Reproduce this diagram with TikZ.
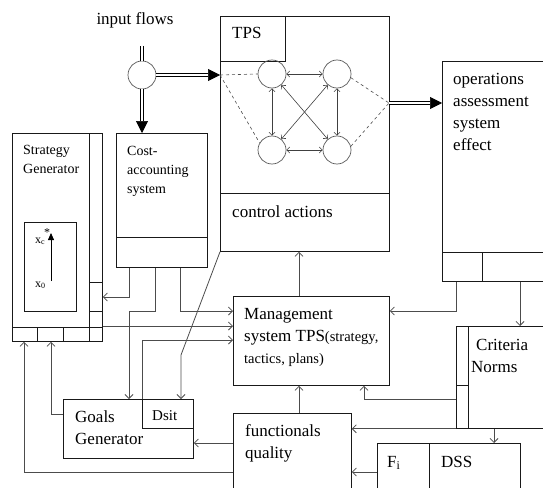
\documentclass[tikz,border=0pt]{standalone}
\usepackage{fontspec}
\setmainfont{Liberation Serif}
\usetikzlibrary{arrows.meta}

\tikzset{
	box/.style={draw=black!90, line width=0.8pt, inner sep=0pt, anchor=north west},
	wire/.style={draw=black!90, line width=0.8pt},
	conn/.style={draw=black!70, line width=0.8pt, -{Straight Barb[length=4pt,width=8pt]}},
	lnk/.style={draw=black!75, line width=0.6pt, {Straight Barb[length=3pt,width=6pt]}-{Straight Barb[length=3pt,width=6pt]}},
	dsh/.style={draw=black!70, line width=0.6pt, dashed},
	dbl/.style={draw=black, double, double distance=2.5pt, line width=0.7pt},
	flow/.style={dbl, -{Triangle[length=12pt,width=12pt]}},
	nd/.style={circle, draw=black!65, line width=0.7pt, minimum size=28pt, inner sep=0pt},
	txt/.style={inner sep=0pt, align=left, anchor=base west, font=\fontsize{17}{22}\selectfont},
	sml/.style={txt, font=\fontsize{14}{19}\selectfont}
}

\begin{document}
\begin{tikzpicture}[x=1pt,y=-1pt]
		\useasboundingbox (0,0) rectangle (543,487);
		\clip (0,0) rectangle (543,487);
		
		% boxes
		\node[box, minimum width=169pt, minimum height=235pt] (tps) at (220,16) {};
		\node[box, minimum width=65pt, minimum height=45pt] (tpslbl) at (220,16) {};
		\node[box, minimum width=115pt, minimum height=220pt] (ops) at (442,61) {};
		\node[box, minimum width=90pt, minimum height=208pt] (strat) at (12,133) {};
		\node[box, minimum width=52pt, minimum height=89pt] (xbox) at (24,222) {};
		\node[box, minimum width=91pt, minimum height=134pt] (cost) at (116,133) {};
		\node[box, minimum width=156pt, minimum height=89pt] (mgmt) at (233,296) {};
		\node[box, minimum width=118pt, minimum height=85pt] (func) at (233,413) {};
		\node[box, minimum width=100pt, minimum height=102pt] (crit) at (456,326) {};
		\node[box, minimum width=143pt, minimum height=55pt] (dss) at (377,443) {};
		\node[box, minimum width=130pt, minimum height=59pt] (goals) at (63,399) {};
		\node[box, minimum width=51pt, minimum height=29pt] (dsit) at (142,399) {};
		
		% inner lines
		\draw[wire] (tps.west |- 0,193) -- (tps.east |- 0,193);
		\draw[wire] (ops.west |- 0,252) -- (ops.east |- 0,252);
		\draw[wire] (482,252) -- (ops.south -| 482,0);
		\draw[wire] (strat.north -| 89,0) -- (strat.south -| 89,0);
		\draw[wire] (strat.west |- 0,327) -- (strat.east |- 0,327);
		\draw[wire] (37,327) -- (strat.south -| 37,0);
		\draw[wire] (63,327) -- (strat.south -| 63,0);
		\draw[wire] (89,282) -- (strat.east |- 0,282);
		\draw[wire] (89,311) -- (strat.east |- 0,311);
		\draw[wire] (cost.west |- 0,237) -- (cost.east |- 0,237);
		\draw[wire] (crit.north -| 468,0) -- (crit.south -| 468,0);
		\draw[wire] (crit.west |- 0,385) -- (468,385);
		\draw[wire] (dss.north -| 429,0) -- (dss.south -| 429,0);
		
		% TPS network
		\node[nd] (in) at (142,75) {};
		\node[nd] (n1) at (272,74) {};
		\node[nd] (n2) at (337,74) {};
		\node[nd] (n3) at (272,150) {};
		\node[nd] (n4) at (337,150) {};
		\coordinate (jl) at (220,75);
		\coordinate (jr) at (389,103);
		\coordinate (top) at (142,46);
		
		\draw[dsh] (jl) -- (n1.west);
		\draw[dsh] (jl) -- (n3.150);
		\draw[dsh] (n2.-15) -- (jr);
		\draw[dsh] (n4.15) -- (jr);
		\draw[lnk] (n1) -- (n2);
		\draw[lnk] (n3) -- (n4);
		\draw[lnk] (n1) -- (n3);
		\draw[lnk] (n2) -- (n4);
		\draw[lnk] (n1) -- (n4);
		\draw[lnk] (n2) -- (n3);
		
		% input flows
		\draw[dbl] (top) -- (in.north);
		\draw[flow] (in.south) -- (cost.north -| in.south);
		\draw[flow] (in.east) -- (jl);
		\draw[flow] (jr) -- (ops.west |- jr);
		
		% x0 -> xc arrow
		\draw[draw=black, line width=0.8pt, -{Triangle[length=7pt,width=6pt]}] (51,281) -- (51,233);
		
		% connectors
		\draw[conn] (cost.south -| 129,0) |- (strat.east |- 0,297);
		\draw[conn] (cost.south -| 155,0) -- (155,311) -- (129,311) -- (goals.north -| 129,0);
		\draw[conn] (cost.south -| 180,0) |- (mgmt.west |- 0,311);
		\draw[conn] (strat.east |- 0,326) -- (mgmt.west |- 0,326);
		\draw[conn] (dsit.north west) |- (mgmt.west |- 0,340);
		\draw[conn] (tps.south west) -- (181,355) -- (dsit.north -| 181,0);
		\draw[conn] (goals.west |- 0,414) -| (strat.south -| 51,0);
		\draw[conn] (func.west |- 0,472) -| (strat.south -| 24,0);
		\draw[conn] (func.west |- 0,443) -- (goals.east |- 0,443);
		\draw[conn] (mgmt.north -| 299,0) -- (tps.south -| 299,0);
		\draw[conn] (func.north -| 299,0) -- (mgmt.south -| 299,0);
		\draw[conn] (ops.south -| 456,0) |- (mgmt.east |- 0,311);
		\draw[conn] (ops.south -| 520,0) -- (crit.north -| 520,0);
		\draw[conn] (crit.west |- 0,399) -| (mgmt.south -| 364,0);
		\draw[conn] (crit.south west) -- (func.east |- crit.south west);
		\draw[conn] (crit.south -| 494,0) -- (dss.north -| 494,0);
		\draw[conn] (dss.west |- 0,472) -- (func.east |- 0,472);
		
		% labels (multi-line: base = last line)
		\node[txt, anchor=base] (tin) at (135,25) {input flows};
		\node[txt] (ttps) at (232,39) {TPS};
		\node[txt] (tctl) at (232,217) {control actions};
		\node[txt] (tops) at (453,150) {operations\\assessment\\system\\effect};
		\node[sml] (tstr) at (23,173) {Strategy\\Generator};
		\node[sml] (tcost) at (127,193) {Cost-\\accounting\\system};
		\node[txt] (tmgmt) at (244,363) {Management\\system TPS{\fontsize{14.5}{21}\selectfont(strategy,}\\{\fontsize{14.5}{21}\selectfont tactics, plans)}};
		\node[txt] (tcrit) at (471,372) {\hspace{5pt}Criteria\\Norms};
		\node[txt] (tfunc) at (245,458) {functionals\\quality};
		\node[txt] (tgoals) at (75,444) {Goals\\Generator};
		\node[txt, font=\fontsize{15}{19}\selectfont] (tdsit) at (152,420) {Dsit};
		\node[txt] (tfi) at (387,467) {F\textsubscript{i}};
		\node[txt] (tdss) at (441,467) {DSS};
		\node[txt, font=\fontsize{12}{14}\selectfont] (tx0) at (35,287) {x\textsubscript{0}};
		\node[txt, font=\fontsize{12}{14}\selectfont] (txc) at (35,243) {x\textsubscript{c}};
		\node[txt, font=\fontsize{12}{14}\selectfont] (tstar) at (44,236) {*};
		
\end{tikzpicture}
\end{document}
